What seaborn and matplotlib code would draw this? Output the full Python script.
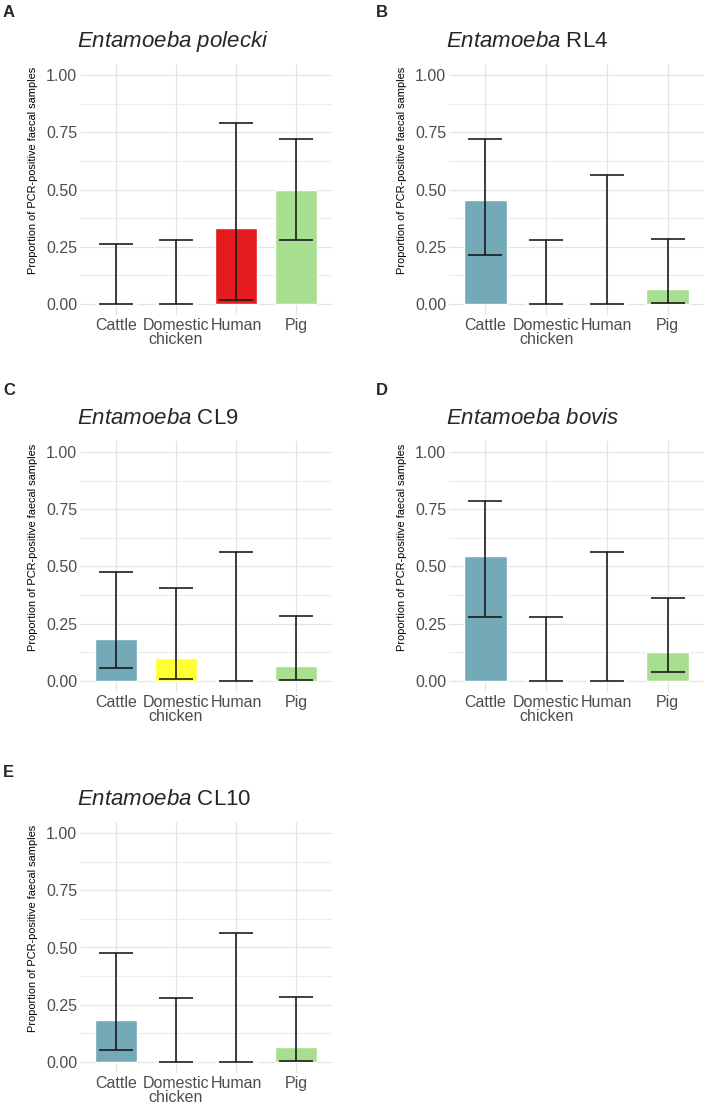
import numpy as np
import pandas as pd
import matplotlib
matplotlib.use("Agg")
import matplotlib.pyplot as plt
import seaborn as sns
from matplotlib.ticker import MultipleLocator

# ---------------- data ----------------
hosts = ["Cattle", "Domestic\nchicken", "Human", "Pig"]
host_colors = ["#74a9b8", "#ffff33", "#e41a1c", "#a8de90"]

panel_letters = ["A", "B", "C", "D", "E"]
species = ["polecki", "RL4", "CL9", "bovis", "CL10"]
species_italic = [True, False, False, True, False]

prop_A = [0.0, 0.0, 0.333, 0.5]
low_A = [0.0, 0.0, 0.016, 0.28]
up_A = [0.26, 0.278, 0.793, 0.72]

prop_B = [0.455, 0.0, 0.0, 0.0625]
low_B = [0.215, 0.0, 0.0, 0.004]
up_B = [0.721, 0.279, 0.563, 0.283]

prop_C = [0.182, 0.1, 0.0, 0.0625]
low_C = [0.054, 0.007, 0.0, 0.004]
up_C = [0.477, 0.404, 0.563, 0.283]

prop_D = [0.547, 0.0, 0.0, 0.125]
low_D = [0.28, 0.0, 0.0, 0.036]
up_D = [0.789, 0.279, 0.563, 0.362]

prop_E = [0.182, 0.0, 0.0, 0.0625]
low_E = [0.052, 0.0, 0.0, 0.004]
up_E = [0.477, 0.279, 0.563, 0.283]

y_ticks = [0.0, 0.25, 0.5, 0.75, 1.0]
y_tick_labels = ["0.00", "0.25", "0.50", "0.75", "1.00"]
y_label = "Proportion of PCR-positive faecal samples"

panels = [
    (prop_A, low_A, up_A),
    (prop_B, low_B, up_B),
    (prop_C, low_C, up_C),
    (prop_D, low_D, up_D),
    (prop_E, low_E, up_E),
]

# ---------------- style ----------------
sns.set_theme(style="white")
plt.rcParams["font.family"] = ["Liberation Sans", "DejaVu Sans"]
plt.rcParams["mathtext.fontset"] = "custom"
plt.rcParams["mathtext.rm"] = "Liberation Sans"
plt.rcParams["mathtext.it"] = "Liberation Sans:italic"

W, H = 708, 1108
fig = plt.figure(figsize=(W / 100, H / 100), dpi=100)

col_left = [80, 449]
col_width = [252, 255]
row_top = [64, 441, 822]
row_height = 251

positions = [(0, 0), (0, 1), (1, 0), (1, 1), (2, 0)]

for i, ((r, c), (prop, low, up)) in enumerate(zip(positions, panels)):
    left = col_left[c] / W
    width = col_width[c] / W
    bottom = 1 - (row_top[r] + row_height) / H
    height = row_height / H
    ax = fig.add_axes([left, bottom, width, height])

    df = pd.DataFrame({"host": hosts, "prop": prop})
    sns.barplot(data=df, x="host", y="prop", hue="host", palette=host_colors,
                order=hosts, hue_order=hosts, width=0.7, legend=False,
                ax=ax, zorder=2, saturation=1)
    xpos = np.arange(len(hosts))
    prop_arr = np.array(prop)
    yerr = [prop_arr - np.array(low), np.array(up) - prop_arr]
    ax.errorbar(xpos, prop_arr, yerr=yerr, fmt="none", ecolor="#151515",
                elinewidth=1.15, capsize=12, capthick=1.15, zorder=3)

    ax.set_xlim(-0.6, 3.6)
    ax.set_ylim(-0.05, 1.05)
    ax.set_yticks(y_ticks)
    ax.set_yticklabels(y_tick_labels)
    ax.yaxis.set_minor_locator(MultipleLocator(0.125))
    ax.set_axisbelow(True)
    ax.grid(True, which="major", axis="both", color="#e4e4e4", linewidth=0.9, zorder=0)
    ax.grid(True, which="minor", axis="y", color="#ececec", linewidth=0.75, zorder=0)
    for s in ax.spines.values():
        s.set_visible(False)
    ax.tick_params(axis="both", which="both", length=0, labelsize=11.5,
                   labelcolor="#4d4d4d")
    ax.tick_params(axis="y", pad=2)
    ax.tick_params(axis="x", pad=2.5)
    for lbl in ax.get_xticklabels():
        lbl.set_linespacing(0.9)
    ax.set_xlabel("")
    ax.set_ylabel(y_label, fontsize=7.9, color="black")
    ax.yaxis.set_label_coords(-0.165, 0.575)

    if species_italic[i]:
        title = r"$\mathit{Entamoeba\ " + species[i] + r"}$"
    else:
        title = r"$\mathit{Entamoeba}$ " + species[i]
    ax.set_title(title, loc="left", fontsize=16, pad=12, x=-0.01)

    fig.text((3 if c == 0 else 376) / W,
             1 - ((5 if r == 0 else (383 if r == 1 else 765)) / H),
             panel_letters[i], fontsize=12, fontweight="bold",
             ha="left", va="top")

fig.savefig("out.png", dpi=100, facecolor="white")
